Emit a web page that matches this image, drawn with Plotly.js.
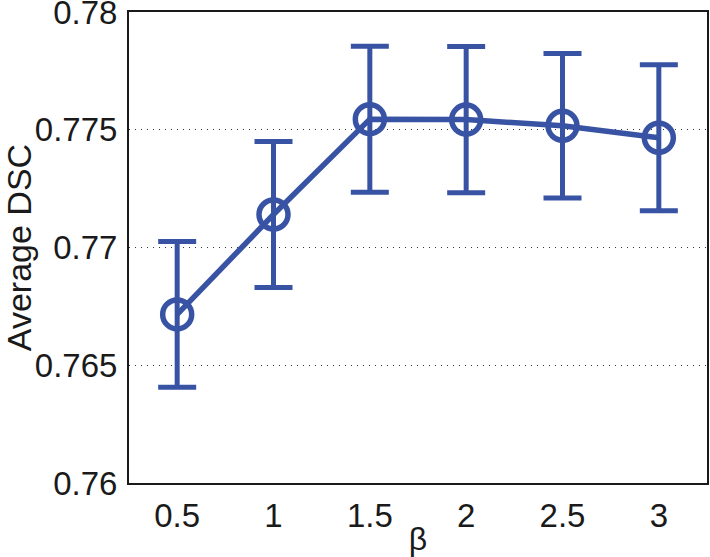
<!DOCTYPE html>
<html>
<head>
<meta charset="utf-8">
<script src="https://cdn.plot.ly/plotly-3.0.1.min.js"></script>
<style>html,body{margin:0;padding:0;background:#fff;}#chart{width:710px;height:557px;}</style>
</head>
<body>
<div id="chart"></div>
<script>
const beta = [0.5, 1, 1.5, 2, 2.5, 3];
const avgDSC = [0.76716, 0.77140, 0.77545, 0.77543, 0.77517, 0.77466];
const errDSC = [0.00309, 0.00310, 0.00310, 0.00310, 0.00307, 0.00310];
const xTickVals = [0.5, 1, 1.5, 2, 2.5, 3];
const xTickText = ['0.5', '1', '1.5', '2', '2.5', '3'];
const yTickVals = [0.76, 0.765, 0.77, 0.775, 0.78];
const yTickText = ['0.76', '0.765', '0.77', '0.775', '0.78'];

const blue = '#3953a4';
const fontFam = 'Liberation Sans, Arial, Helvetica, sans-serif';

const trace = {
  x: beta, y: avgDSC, type: 'scatter', mode: 'lines+markers',
  line: {color: blue, width: 5.5},
  marker: {symbol: 'circle-open', size: 29, color: blue, line: {color: blue, width: 5.5}},
  error_y: {type: 'data', array: errDSC, visible: true, color: blue, thickness: 5, width: 19},
  showlegend: false, cliponaxis: false
};

const layout = {
  width: 710, height: 557,
  margin: {l: 129, r: 3, t: 12, b: 74},
  paper_bgcolor: '#fff', plot_bgcolor: '#fff',
  font: {family: fontFam, size: 33, color: '#1a1a1a'},
  xaxis: {
    range: [0.25, 3.25], tickvals: xTickVals, ticktext: xTickText,
    showgrid: false, zeroline: false, ticks: '',
    showline: true, mirror: true, linecolor: '#1a1a1a', linewidth: 2,
    tickfont: {size: 33}, ticklabelstandoff: 2, ticklabeloverflow: 'allow',
    title: {text: 'β', font: {size: 32}, standoff: 0}
  },
  yaxis: {
    range: [0.76, 0.78], tickvals: yTickVals, ticktext: yTickText,
    showgrid: true, gridcolor: '#333', griddash: '1px,5px', gridwidth: 1,
    zeroline: false, ticks: '',
    showline: true, mirror: true, linecolor: '#1a1a1a', linewidth: 2,
    tickfont: {size: 33}, ticklabelstandoff: 3, ticklabeloverflow: 'allow',
    title: {text: 'Average DSC', font: {size: 34}, standoff: 6}
  }
};

Plotly.newPlot('chart', [trace], layout, {displayModeBar: false, staticPlot: true});
</script>
</body>
</html>
